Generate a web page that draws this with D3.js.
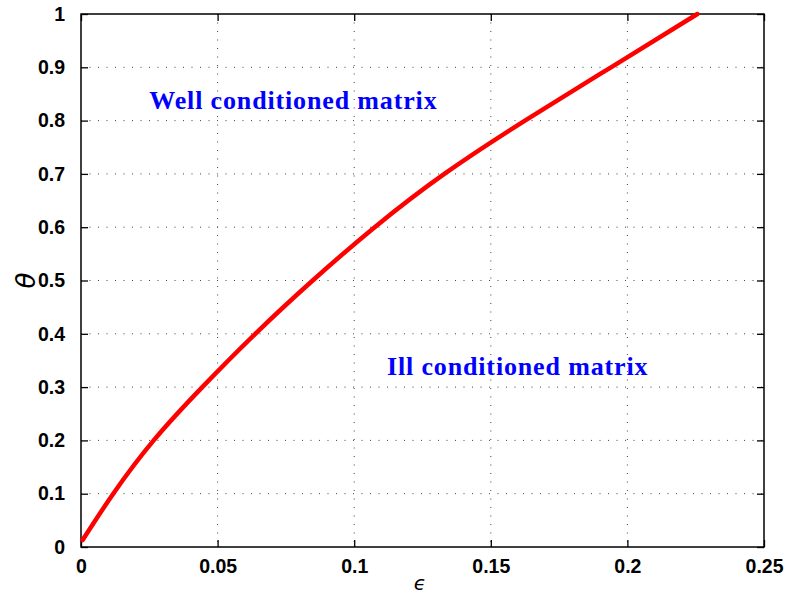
<!DOCTYPE html>
<meta charset="utf-8">
<script src="https://d3js.org/d3.v7.min.js"></script>
<style>
	body{ margin:0; background:#fff; }
	.tick text{ font-family:'Liberation Sans', Arial, sans-serif; font-weight:bold; font-size:19.5px; fill:#000; }
</style>
<div id="chart"></div>
<script>
	// values
	var epsValues   = [0.0006, 0.0118, 0.0266, 0.0444, 0.0638, 0.0848, 0.1075, 0.1330, 0.1625, 0.1940, 0.2256]
	var thetaValues = [0.013, 0.1, 0.2, 0.3, 0.4, 0.5, 0.6, 0.7, 0.8, 0.9, 1]
	var xTicks = [0, 0.05, 0.1, 0.15, 0.2, 0.25]
	var yTicks = [0, 0.1, 0.2, 0.3, 0.4, 0.5, 0.6, 0.7, 0.8, 0.9, 1]
	var xTickLabels = ["0", "0.05", "0.1", "0.15", "0.2", "0.25"]
	var yTickLabels = ["0", "0.1", "0.2", "0.3", "0.4", "0.5", "0.6", "0.7", "0.8", "0.9", "1"]
	var regionLabels = ["Well conditioned matrix", "Ill conditioned matrix"]
	var regionAnchors = [[0.025, 0.822], [0.112, 0.323]]

	var w = 786
	var h = 595
	var pLeft = 81, pRight = 764, pTop = 14, pBottom = 547

	var svg = d3.select("#chart").append("svg").attr("width", w).attr("height", h)

	var x = d3.scaleLinear().domain([0, 0.25]).range([pLeft, pRight])
	var y = d3.scaleLinear().domain([0, 1]).range([pBottom, pTop])

	// grid
	var grid = svg.append("g").attr("stroke", "#444").attr("stroke-width", 1).attr("stroke-dasharray", "1,7.5")
	grid.selectAll(".vg").data(xTicks.slice(1, -1)).join("line")
		.attr("x1", d => x(d)).attr("x2", d => x(d)).attr("y1", pTop).attr("y2", pBottom)
	grid.selectAll(".hg").data(yTicks.slice(1, -1)).join("line")
		.attr("x1", pLeft).attr("x2", pRight).attr("y1", d => y(d)).attr("y2", d => y(d))

	// axes, ticks pointing inward, box on
	var tl = 7
	var xAxis = svg.append("g").attr("transform", "translate(0," + pBottom + ")")
		.call(d3.axisBottom(x).tickValues(xTicks).tickFormat((d, i) => xTickLabels[i]).tickSizeInner(-tl).tickSizeOuter(0).tickPadding(14))
	var yAxis = svg.append("g").attr("transform", "translate(" + pLeft + ",0)")
		.call(d3.axisLeft(y).tickValues(yTicks).tickFormat((d, i) => yTickLabels[i]).tickSizeInner(-tl).tickSizeOuter(0).tickPadding(16))
	svg.append("g").attr("transform", "translate(0," + pTop + ")")
		.call(d3.axisTop(x).tickValues(xTicks).tickFormat("").tickSizeInner(-tl).tickSizeOuter(0))
	svg.append("g").attr("transform", "translate(" + pRight + ",0)")
		.call(d3.axisRight(y).tickValues(yTicks).tickFormat("").tickSizeInner(-tl).tickSizeOuter(0))
	svg.selectAll(".domain").remove()
	svg.selectAll(".tick line").attr("stroke", "#000").attr("stroke-width", 1.3)
	xAxis.selectAll(".tick text").attr("dy", "0.6em")

	svg.append("rect").attr("x", pLeft).attr("y", pTop).attr("width", pRight - pLeft).attr("height", pBottom - pTop)
		.attr("fill", "none").attr("stroke", "#000").attr("stroke-width", 1.5)

	// curve
	var line = d3.line().x((d, i) => x(epsValues[i])).y(d => y(d)).curve(d3.curveNatural)
	svg.append("path").datum(thetaValues).attr("d", line)
		.attr("fill", "none").attr("stroke", "#ff0000").attr("stroke-width", 4.5).attr("stroke-linecap", "round")

	// region labels
	svg.selectAll(".region").data(regionLabels).join("text")
		.attr("x", (d, i) => x(regionAnchors[i][0]))
		.attr("y", (d, i) => y(regionAnchors[i][1]))
		.attr("font-family", "'Liberation Serif', 'Times New Roman', serif")
		.attr("font-weight", "bold")
		.attr("font-size", 26)
		.attr("letter-spacing", 0.85)
		.attr("fill", "#0000ff")
		.text(d => d)

	// axis labels
	svg.append("text").attr("x", 420).attr("y", 590)
		.attr("text-anchor", "middle").attr("font-family", "'DejaVu Sans', sans-serif").attr("font-style", "italic")
		.attr("font-size", 20).text("ϵ")
	svg.append("text").attr("transform", "translate(35," + ((pTop + pBottom) / 2) + ") rotate(-90)")
		.attr("text-anchor", "middle").attr("font-family", "'DejaVu Sans', sans-serif").attr("font-style", "italic")
		.attr("font-size", 26).text("θ")
</script>
